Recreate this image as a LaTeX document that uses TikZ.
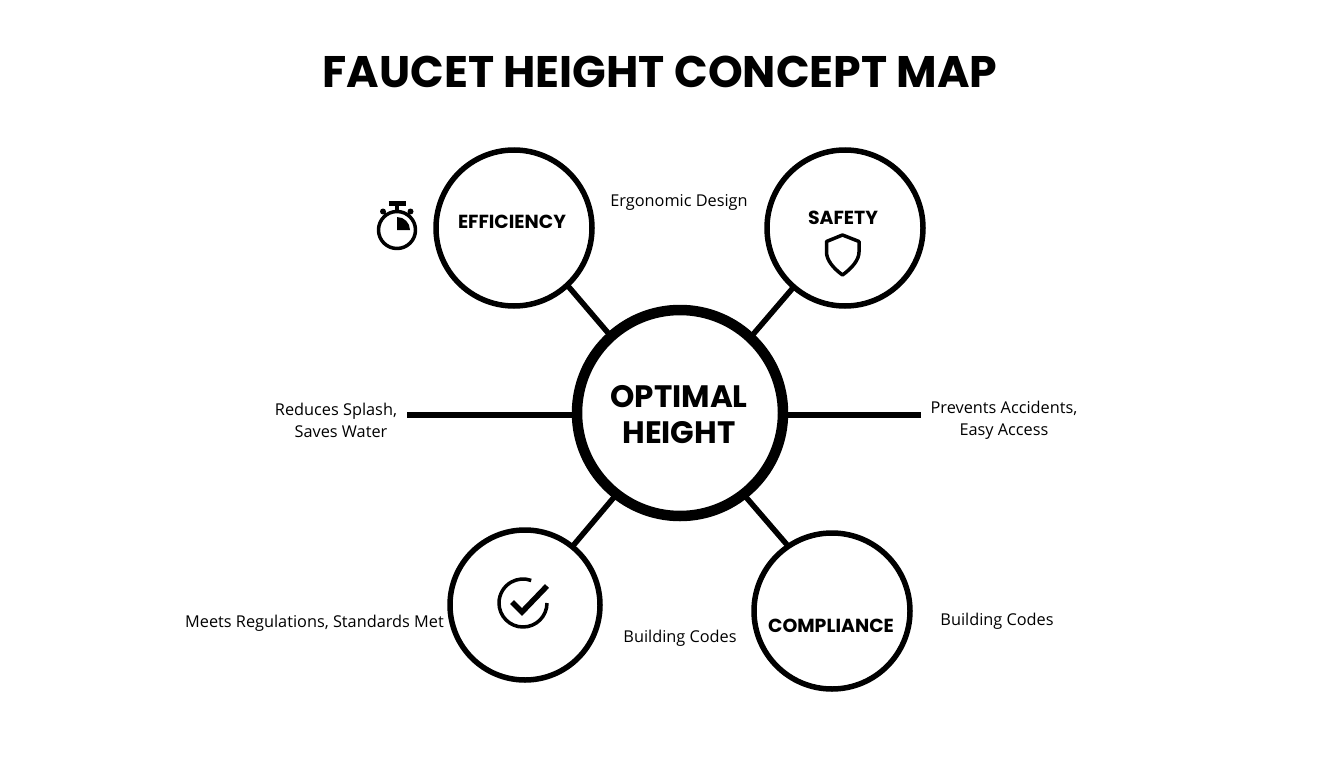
\documentclass[tikz,border=0pt]{standalone}
\usepackage{fontspec}
\setmainfont{Open Sans}
\newfontfamily\headfont{Poppins}
\tikzset{
  x=1pt,y=-1pt,
  hub/.style={circle,draw=black,line width=10.5pt,minimum size=206pt,inner sep=0pt,outer sep=0pt},
  hublabel/.style={inner sep=0pt,align=center,font=\headfont\bfseries\fontsize{31}{36}\selectfont},
  topic/.style={circle,draw=black,line width=5.5pt,inner sep=0pt,outer sep=0pt},
  topiclabel/.style={inner sep=0pt,font=\headfont\bfseries\fontsize{18.9}{20}\selectfont},
  note/.style={inner sep=0pt,align=center,font=\fontsize{16.3}{22}\selectfont},
  link/.style={line width=5.5pt},
  stub/.style={line width=6pt},
  icon/.style={line width=3.5pt,line join=round}
}
\begin{document}
\begin{tikzpicture}
\useasboundingbox (0,0) rectangle (1344,768);
\fill[white] (0,0) rectangle (1344,768);
\node[inner sep=0pt,font=\headfont\bfseries\fontsize{44.2}{52}\selectfont] (title) at (660,72) {FAUCET HEIGHT CONCEPT MAP};
\node[hub] (hub) at (680,413) {};
\node[hublabel] (hubtext) at (679,415) {OPTIMAL\\HEIGHT};
\node[topic,minimum size=156pt] (eff) at (514,228) {};
\node[topic,minimum size=156pt] (saf) at (845,228) {};
\node[topic,minimum size=150pt] (reg) at (525,605) {};
\node[topic,minimum size=156pt] (com) at (832,611) {};
\node[topiclabel] (efflabel) at (512,222) {EFFICIENCY};
\node[topiclabel] (saflabel) at (843,218) {SAFETY};
\node[topiclabel] (comlabel) at (831,626) {COMPLIANCE};
\coordinate (leftend) at (407,415);
\coordinate (rightend) at (921,415);
\draw[link] (hub.132) -- (eff.-47);
\draw[link] (hub.47) -- (saf.-131);
\draw[link] (hub.232) -- (reg.51);
\draw[link] (hub.-52) -- (com.124);
\draw[stub] (hub.west |- leftend) -- (leftend);
\draw[stub] (hub.east |- rightend) -- (rightend);
\node[note] (n1) at (679,202) {Ergonomic Design};
\node[note] (n2) at (336,420) {Reduces Splash,\\\hspace*{10pt}Saves Water};
\node[note] (n3) at (1004,420) {Prevents Accidents,\\Easy Access};
\node[note,anchor=east] (n4) at (444,623) {Meets Regulations, Standards Met};
\node[note] (n5) at (680,638) {Building Codes};
\node[note] (n6) at (997,621) {Building Codes};
% stopwatch
\draw[icon] (397,230) circle (18.5);
\fill (397,230) -- (397,217) arc (-90:0:13) -- cycle;
\draw[line width=4.5pt] (388.5,203.5) -- (405.5,203.5);
\draw[line width=4pt] (397,204) -- (397,211);
\fill (383,211.5) circle (3);
\fill (410.5,211.5) circle (3);
\draw[line width=2.5pt] (383,211.5) -- (387,216);
\draw[line width=2.5pt] (410.5,211.5) -- (406.5,216);
% shield
\draw[icon] (842.5,235) -- (859,241.5) -- (859,252) .. controls (859,260) and (852,268) .. (842.5,275) .. controls (833,268) and (826.5,260) .. (826.5,252) -- (826.5,241.5) -- cycle;
% check
\draw[icon] (547,603) arc (0:290:24);
\draw[line width=5.5pt] (512,602) -- (522,612) -- (547,586);
\end{tikzpicture}
\end{document}
